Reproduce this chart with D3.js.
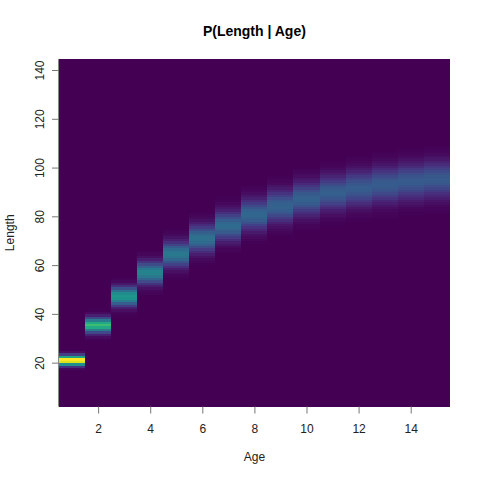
<!DOCTYPE html>
<html><head><meta charset="utf-8">
<script src="https://cdn.jsdelivr.net/npm/d3@7"></script>
<style>body{margin:0;background:#fff}svg{display:block}text{font-family:"Liberation Sans",Arial,sans-serif}</style>
</head><body>
<script>
// ages (columns)
const ages = [1,2,3,4,5,6,7,8,9,10,11,12,13,14,15];
// mean length per age
const meanLength = [21.1,35.5,47.3,57.0,64.6,71.0,76.2,80.8,84.2,87.3,89.8,91.6,93.1,94.3,95.3];
// spread (sd) of length per age
const sdLength = [1.29,1.97,2.53,2.99,3.35,3.65,3.89,4.11,4.27,4.42,4.54,4.62,4.69,4.75,4.80];
// length bins (cell centres)
const lengths = d3.range(2.5, 145, 1);
const xTicks = [2,4,6,8,10,12,14];
const yTicks = [20,40,60,80,100,120,140];

const W = 480, H = 480;
const m = {l:59.04, r:449.76, t:59.04, b:406.56};
const svg = d3.select("body").append("svg").attr("width",W).attr("height",H);

const x = d3.scaleLinear().domain([0.5,15.5]).range([m.l,m.r]);
const y = d3.scaleLinear().domain([2,144.5]).range([m.b,m.t]);

// conditional probability cells
const cells = [];
ages.forEach((a,i)=>{
  lengths.forEach(L=>{
    const z=(L-meanLength[i])/sdLength[i];
    cells.push({a, L, p: Math.exp(-0.5*z*z)/(sdLength[i]*Math.sqrt(2*Math.PI))});
  });
});
const pmax = d3.max(cells,d=>d.p);
const color = d3.scaleSequential(d3.interpolateViridis).domain([0,pmax]);

svg.append("g").attr("shape-rendering","crispEdges").selectAll("rect").data(cells).join("rect")
  .attr("x",d=>x(d.a-0.5)).attr("width",d=>x(d.a+0.5)-x(d.a-0.5)+0.4)
  .attr("y",d=>Math.max(m.t,y(d.L+0.5))).attr("height",d=>Math.min(m.b,y(d.L-0.5))-Math.max(m.t,y(d.L+0.5))+0.4)
  .attr("fill",d=>color(d.p));

// left border line
svg.append("line").attr("x1",58.5).attr("x2",58.5).attr("y1",m.t).attr("y2",m.b)
  .attr("stroke","#888").attr("stroke-width",1);

// bottom axis
const gx = svg.append("g").attr("transform",`translate(0,${m.b})`)
  .call(d3.axisBottom(x).tickValues(xTicks).tickSize(7).tickPadding(11).tickSizeOuter(0));
gx.select(".domain").remove();
gx.selectAll(".tick line").attr("stroke","#777");
gx.selectAll(".tick text").attr("fill","#222").attr("font-size","12px");

// left axis
const gy = svg.append("g").attr("transform",`translate(${m.l},0)`)
  .call(d3.axisLeft(y).tickValues(yTicks).tickSize(7).tickSizeOuter(0));
gy.select(".domain").remove();
gy.selectAll(".tick line").attr("stroke","#777");
gy.selectAll(".tick text").attr("fill","#222").attr("font-size","12px")
  .attr("x",0).attr("dy",0).attr("text-anchor","middle")
  .attr("transform","translate(-15,0) rotate(-90)");

// titles
svg.append("text").attr("x",(m.l+m.r)/2).attr("y",36).attr("text-anchor","middle")
  .attr("font-weight","bold").attr("font-size","14px").attr("fill","#000").text("P(Length | Age)");
svg.append("text").attr("x",(m.l+m.r)/2).attr("y",461).attr("text-anchor","middle")
  .attr("font-size","12px").attr("fill","#222").text("Age");
svg.append("text").attr("transform",`translate(14,${(m.t+m.b)/2}) rotate(-90)`).attr("text-anchor","middle")
  .attr("font-size","12px").attr("fill","#222").text("Length");
</script>
</body></html>
